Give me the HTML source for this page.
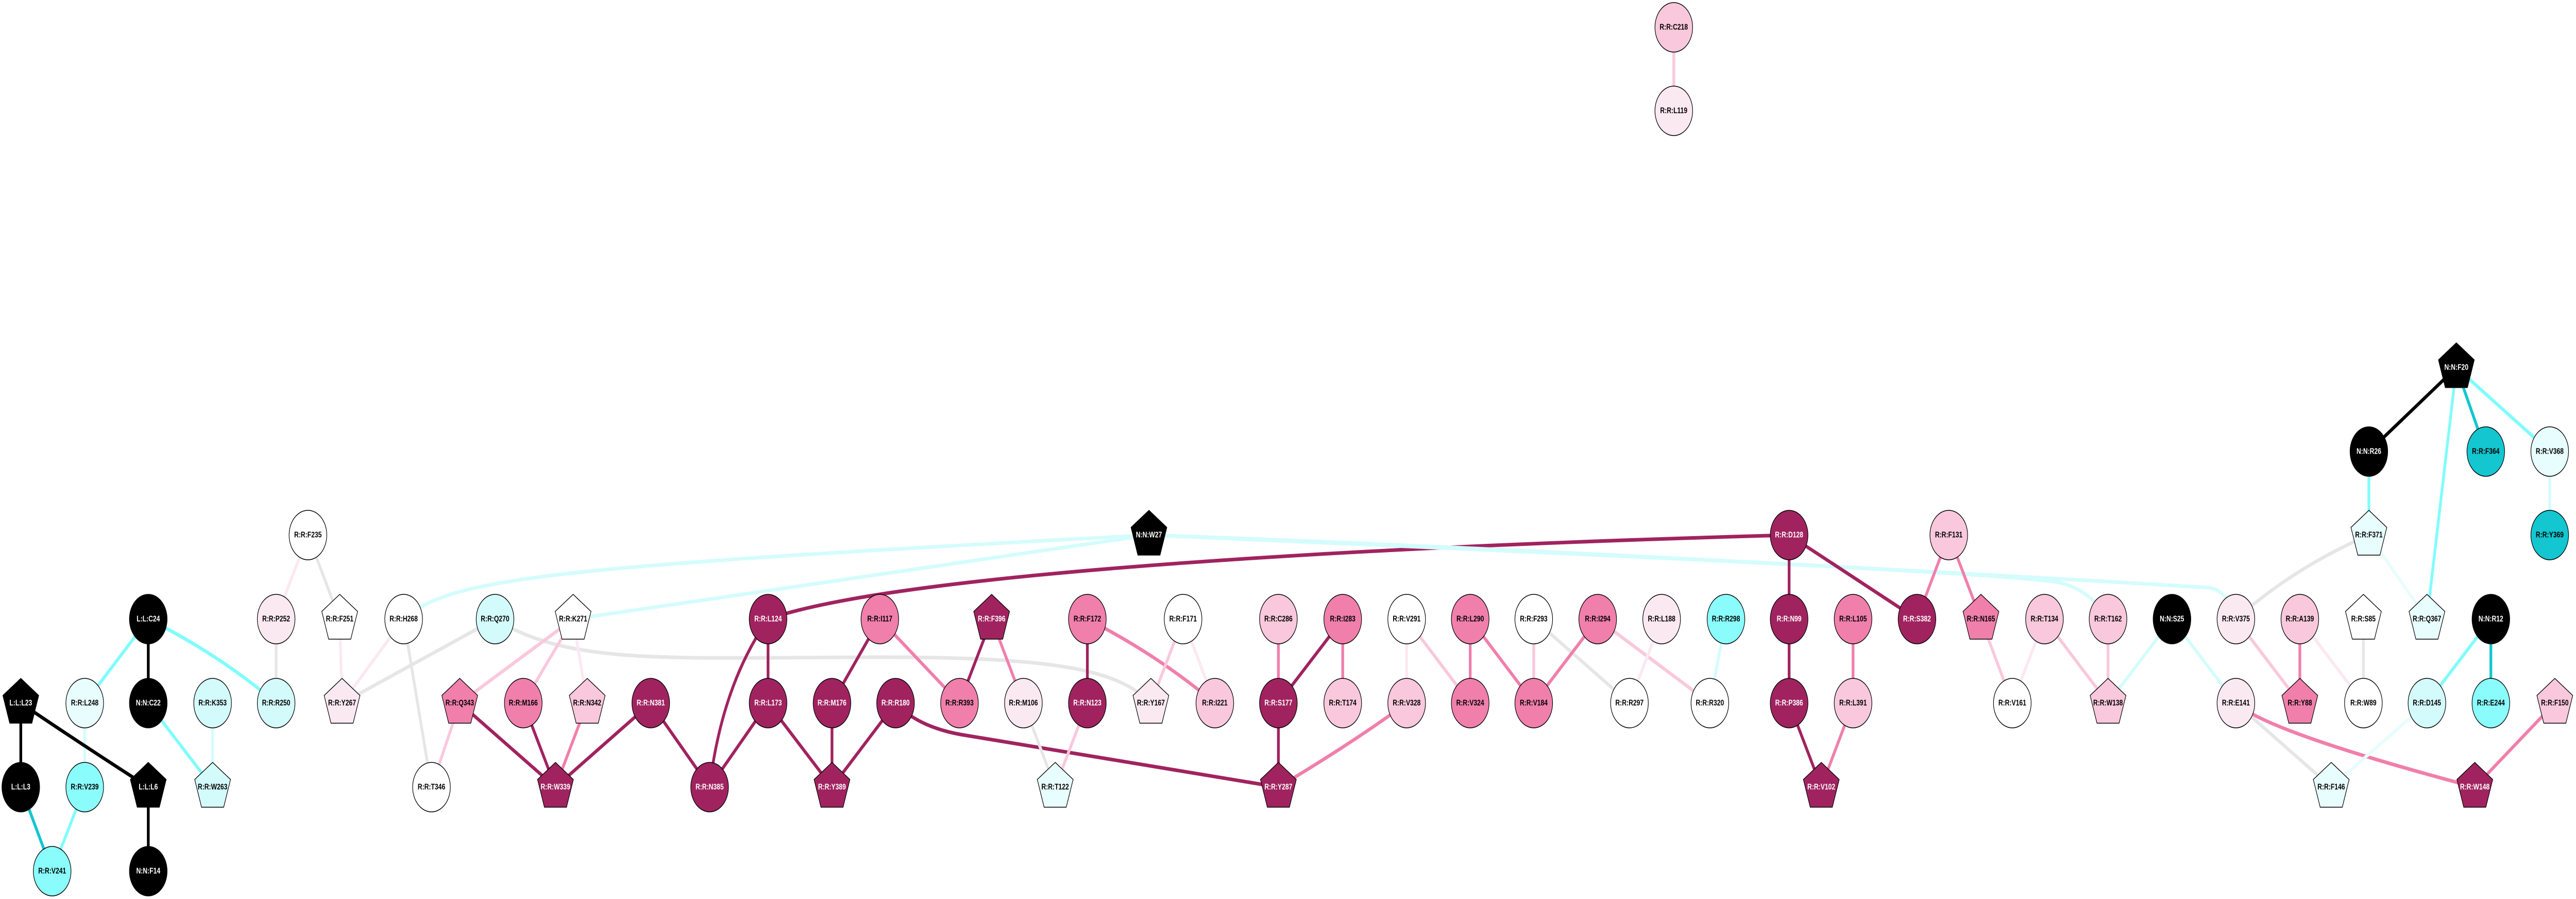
<!DOCTYPE html>
<html><head><meta charset="utf-8">
<meta name="viewport" content="width=6567">
<style>
html,body{margin:0;padding:0;background:#fff;width:100%;height:100%;overflow:hidden;}
svg{display:block;width:100vw;height:100vh;}
.n{stroke:#000;stroke-width:1.5;}
.dk{fill:#a0235f}.pk{fill:#f07fab}.lp{fill:#f9c8dc}.vlp{fill:#fbe9f1}.w{fill:#fff}.blk{fill:#000}
.cy{fill:#8afcfc}.dcy{fill:#13c6cf}.lc{fill:#d4fbfb}.vlc{fill:#e8fdfd}
line,path{stroke-width:7;fill:none;}
.Edk{stroke:#a0235f}.Epk{stroke:#f07fab}.Elp{stroke:#f9c8dc}.Evlp{stroke:#fbe9f1}.Eg{stroke:#e6e6e6}
.Ecy{stroke:#80fcfc}.Elc{stroke:#d4fcfc}.Evlc{stroke:#e8fdfd}.Eblk{stroke:#000}.Edcy{stroke:#13c6cf}
text{font-family:"Liberation Sans",sans-serif;font-weight:bold;font-size:16px;text-anchor:middle;dominant-baseline:central;fill:#000;}
text.wt{fill:#fff;}
</style></head><body>
<svg viewBox="0 0 6567 1744" preserveAspectRatio="none" xmlns="http://www.w3.org/2000/svg">
<defs><polygon id="pg" points="0,-48 45.65,-14.83 28.21,38.83 -28.21,38.83 -45.65,-14.83"/></defs>
<g>
<line class="Elp" x1="4267" y1="53" x2="4267" y2="215"/>
<line class="Evlp" x1="785" y1="1038" x2="704" y2="1201"/>
<line class="Eg" x1="785" y1="1038" x2="866" y2="1201"/>
<line class="Ecy" x1="378" y1="1201" x2="216" y2="1364"/>
<line class="Eblk" x1="378" y1="1201" x2="378" y2="1364"/>
<path class="Ecy" d="M378,1201 Q560,1270 704,1364"/>
<line class="Eg" x1="704" y1="1201" x2="704" y2="1364"/>
<line class="Evlp" x1="866" y1="1201" x2="872" y2="1364"/>
<line class="Evlp" x1="1029" y1="1201" x2="872" y2="1364"/>
<line class="Eg" x1="1029" y1="1201" x2="1100" y2="1527"/>
<line class="Eg" x1="872" y1="1364" x2="1262" y2="1201"/>
<line class="Elc" x1="216" y1="1364" x2="216" y2="1527"/>
<line class="Ecy" x1="378" y1="1364" x2="542" y2="1527"/>
<line class="Elc" x1="542" y1="1364" x2="542" y2="1527"/>
<line class="Eblk" x1="53" y1="1364" x2="53" y2="1527"/>
<path class="Eblk" d="M53,1364 Q200,1440 378,1527"/>
<line class="Edcy" x1="53" y1="1527" x2="133" y2="1690"/>
<line class="Ecy" x1="216" y1="1527" x2="133" y2="1690"/>
<line class="Eblk" x1="378" y1="1527" x2="378" y2="1690"/>
<path class="Elc" d="M1029,1201 C1150,1120 1400,1100 2929,1038"/>
<line class="Elc" x1="1461" y1="1201" x2="2929" y2="1038"/>
<path class="Eg" d="M1262,1201 C1450,1290 1700,1276 2200,1275 C2700,1273 2850,1300 2934,1364"/>
<line class="Elp" x1="1461" y1="1201" x2="1172" y2="1364"/>
<line class="Elp" x1="1461" y1="1201" x2="1334" y2="1364"/>
<line class="Evlp" x1="1461" y1="1201" x2="1497" y2="1364"/>
<line class="Elp" x1="1172" y1="1364" x2="1100" y2="1527"/>
<line class="Edk" x1="1172" y1="1364" x2="1416" y2="1527"/>
<line class="Edk" x1="1334" y1="1364" x2="1416" y2="1527"/>
<line class="Epk" x1="1497" y1="1364" x2="1416" y2="1527"/>
<line class="Edk" x1="1659" y1="1364" x2="1416" y2="1527"/>
<line class="Edk" x1="1659" y1="1364" x2="1809" y2="1527"/>
<path class="Edk" d="M1958,1201 Q1840,1330 1809,1527"/>
<line class="Edk" x1="1958" y1="1201" x2="1958" y2="1364"/>
<line class="Edk" x1="1958" y1="1364" x2="1809" y2="1527"/>
<line class="Edk" x1="1958" y1="1364" x2="2121" y2="1527"/>
<line class="Edk" x1="2121" y1="1364" x2="2121" y2="1527"/>
<line class="Edk" x1="2283" y1="1364" x2="2121" y2="1527"/>
<path class="Edk" d="M1958,1201 C2300,1110 3500,1060 4561,1038"/>
<line class="Edk" x1="2121" y1="1364" x2="2243" y2="1201"/>
<line class="Epk" x1="2243" y1="1201" x2="2446" y2="1364"/>
<line class="Edk" x1="2528" y1="1201" x2="2446" y2="1364"/>
<line class="Epk" x1="2528" y1="1201" x2="2609" y2="1364"/>
<line class="Edk" x1="2772" y1="1201" x2="2772" y2="1364"/>
<path class="Epk" d="M2772,1201 Q2950,1270 3097,1364"/>
<line class="Elp" x1="3016" y1="1201" x2="2934" y2="1364"/>
<line class="Evlp" x1="3016" y1="1201" x2="3097" y2="1364"/>
<line class="Epk" x1="3259" y1="1201" x2="3259" y2="1364"/>
<line class="Edk" x1="3259" y1="1364" x2="3259" y2="1527"/>
<line class="Edk" x1="3259" y1="1364" x2="3423" y2="1201"/>
<path class="Edk" d="M2283,1364 Q2340,1410 2450,1425 L3259,1527"/>
<line class="Eg" x1="2609" y1="1364" x2="2690" y2="1527"/>
<line class="Elp" x1="2772" y1="1364" x2="2690" y2="1527"/>
<line class="Epk" x1="3423" y1="1201" x2="3423" y2="1364"/>
<line class="Evlp" x1="3586" y1="1201" x2="3586" y2="1364"/>
<line class="Elp" x1="3586" y1="1201" x2="3748" y2="1364"/>
<line class="Epk" x1="3748" y1="1201" x2="3748" y2="1364"/>
<line class="Epk" x1="3748" y1="1201" x2="3910" y2="1364"/>
<line class="Elp" x1="3910" y1="1201" x2="3910" y2="1364"/>
<line class="Eg" x1="3910" y1="1201" x2="4154" y2="1364"/>
<line class="Epk" x1="4073" y1="1201" x2="3910" y2="1364"/>
<line class="Elp" x1="4073" y1="1201" x2="4359" y2="1364"/>
<line class="Evlp" x1="4236" y1="1201" x2="4154" y2="1364"/>
<line class="Elc" x1="4400" y1="1201" x2="4359" y2="1364"/>
<path class="Epk" d="M3586,1364 Q3450,1440 3259,1527"/>
<path class="Elc" d="M2929,1038 C3800,1060 5200,1120 5630,1140 Q5680,1145 5700,1200"/>
<path class="Elc" d="M2929,1038 C3900,1070 5100,1110 5250,1130 Q5330,1145 5374,1201"/>
<line class="Edk" x1="4561" y1="1038" x2="4561" y2="1201"/>
<line class="Edk" x1="4561" y1="1038" x2="4887" y2="1201"/>
<line class="Epk" x1="4968" y1="1038" x2="4887" y2="1201"/>
<line class="Epk" x1="4968" y1="1038" x2="5050" y2="1201"/>
<line class="Edk" x1="4561" y1="1201" x2="4561" y2="1364"/>
<line class="Epk" x1="4724" y1="1201" x2="4724" y2="1364"/>
<line class="Edk" x1="4561" y1="1364" x2="4643" y2="1527"/>
<line class="Epk" x1="4724" y1="1364" x2="4643" y2="1527"/>
<line class="Elp" x1="5050" y1="1201" x2="5130" y2="1364"/>
<line class="Evlp" x1="5212" y1="1201" x2="5130" y2="1364"/>
<line class="Elp" x1="5212" y1="1201" x2="5374" y2="1364"/>
<line class="Elp" x1="5374" y1="1201" x2="5374" y2="1364"/>
<line class="Elc" x1="5537" y1="1201" x2="5374" y2="1364"/>
<line class="Eblk" x1="6262" y1="713" x2="6039" y2="876"/>
<line class="Ecy" x1="6262" y1="713" x2="6187" y2="1201"/>
<line class="Edcy" x1="6262" y1="713" x2="6337" y2="876"/>
<line class="Ecy" x1="6262" y1="713" x2="6500" y2="876"/>
<line class="Ecy" x1="6039" y1="876" x2="6039" y2="1038"/>
<line class="Elc" x1="6500" y1="876" x2="6500" y2="1038"/>
<path class="Eg" d="M6039,1038 Q5850,1100 5700,1201"/>
<line class="Evlc" x1="6039" y1="1038" x2="6187" y2="1201"/>
<line class="Elc" x1="5537" y1="1201" x2="5700" y2="1364"/>
<line class="Elp" x1="5700" y1="1201" x2="5863" y2="1364"/>
<line class="Epk" x1="5863" y1="1201" x2="5863" y2="1364"/>
<line class="Evlp" x1="5863" y1="1201" x2="6025" y2="1364"/>
<line class="Eg" x1="6025" y1="1201" x2="6025" y2="1364"/>
<line class="Ecy" x1="6350" y1="1201" x2="6187" y2="1364"/>
<line class="Edcy" x1="6350" y1="1201" x2="6350" y2="1364"/>
<path class="Epk" d="M5700,1364 Q5780,1420 6309,1527"/>
<line class="Eg" x1="5700" y1="1364" x2="5943" y2="1527"/>
<line class="Evlc" x1="6187" y1="1364" x2="5943" y2="1527"/>
<line class="Epk" x1="6513" y1="1364" x2="6309" y2="1527"/>
</g>
<g>
<circle class="n lp" cx="4267" cy="53" r="48"/><text x="4267" y="53">R:R:C218</text>
<circle class="n vlp" cx="4267" cy="215" r="48"/><text x="4267" y="215">R:R:L119</text>
<circle class="n w" cx="785" cy="1038" r="48"/><text x="785" y="1038">R:R:F235</text>
<circle class="n blk" cx="378" cy="1201" r="48"/><text class="wt" x="378" y="1201">L:L:C24</text>
<circle class="n vlp" cx="704" cy="1201" r="48"/><text x="704" y="1201">R:R:P252</text>
<use href="#pg" class="n w" x="866" y="1201"/><text x="866" y="1201">R:R:F251</text>
<circle class="n w" cx="1029" cy="1201" r="48"/><text x="1029" y="1201">R:R:H268</text>
<use href="#pg" class="n blk" x="53" y="1364"/><text class="wt" x="53" y="1364">L:L:L23</text>
<circle class="n vlc" cx="216" cy="1364" r="48"/><text x="216" y="1364">R:R:L248</text>
<circle class="n blk" cx="378" cy="1364" r="48"/><text class="wt" x="378" y="1364">N:N:C22</text>
<circle class="n lc" cx="542" cy="1364" r="48"/><text x="542" y="1364">R:R:K353</text>
<circle class="n lc" cx="704" cy="1364" r="48"/><text x="704" y="1364">R:R:R250</text>
<use href="#pg" class="n vlp" x="872" y="1364"/><text x="872" y="1364">R:R:Y267</text>
<circle class="n blk" cx="53" cy="1527" r="48"/><text class="wt" x="53" y="1527">L:L:L3</text>
<circle class="n cy" cx="216" cy="1527" r="48"/><text x="216" y="1527">R:R:V239</text>
<use href="#pg" class="n blk" x="378" y="1527"/><text class="wt" x="378" y="1527">L:L:L6</text>
<use href="#pg" class="n lc" x="542" y="1527"/><text x="542" y="1527">R:R:W263</text>
<circle class="n w" cx="1100" cy="1527" r="48"/><text x="1100" y="1527">R:R:T346</text>
<circle class="n cy" cx="133" cy="1690" r="48"/><text x="133" y="1690">R:R:V241</text>
<circle class="n blk" cx="378" cy="1690" r="48"/><text class="wt" x="378" y="1690">N:N:F14</text>
<circle class="n lc" cx="1262" cy="1201" r="48"/><text x="1262" y="1201">R:R:Q270</text>
<use href="#pg" class="n w" x="1461" y="1201"/><text x="1461" y="1201">R:R:K271</text>
<circle class="n dk" cx="1958" cy="1201" r="48"/><text class="wt" x="1958" y="1201">R:R:L124</text>
<use href="#pg" class="n pk" x="1172" y="1364"/><text x="1172" y="1364">R:R:Q343</text>
<circle class="n pk" cx="1334" cy="1364" r="48"/><text x="1334" y="1364">R:R:M166</text>
<use href="#pg" class="n lp" x="1497" y="1364"/><text x="1497" y="1364">R:R:N342</text>
<circle class="n dk" cx="1659" cy="1364" r="48"/><text class="wt" x="1659" y="1364">R:R:N381</text>
<circle class="n dk" cx="1958" cy="1364" r="48"/><text class="wt" x="1958" y="1364">R:R:L173</text>
<circle class="n dk" cx="2121" cy="1364" r="48"/><text class="wt" x="2121" y="1364">R:R:M176</text>
<use href="#pg" class="n dk" x="1416" y="1527"/><text class="wt" x="1416" y="1527">R:R:W339</text>
<circle class="n dk" cx="1809" cy="1527" r="48"/><text class="wt" x="1809" y="1527">R:R:N385</text>
<use href="#pg" class="n dk" x="2121" y="1527"/><text class="wt" x="2121" y="1527">R:R:Y389</text>
<use href="#pg" class="n blk" x="2929" y="1038"/><text class="wt" x="2929" y="1038">N:N:W27</text>
<circle class="n pk" cx="2243" cy="1201" r="48"/><text x="2243" y="1201">R:R:I117</text>
<use href="#pg" class="n dk" x="2528" y="1201"/><text class="wt" x="2528" y="1201">R:R:F396</text>
<circle class="n pk" cx="2772" cy="1201" r="48"/><text x="2772" y="1201">R:R:F172</text>
<circle class="n w" cx="3016" cy="1201" r="48"/><text x="3016" y="1201">R:R:F171</text>
<circle class="n lp" cx="3259" cy="1201" r="48"/><text x="3259" y="1201">R:R:C286</text>
<circle class="n dk" cx="2283" cy="1364" r="48"/><text class="wt" x="2283" y="1364">R:R:R180</text>
<circle class="n pk" cx="2446" cy="1364" r="48"/><text x="2446" y="1364">R:R:R393</text>
<circle class="n vlp" cx="2609" cy="1364" r="48"/><text x="2609" y="1364">R:R:M106</text>
<circle class="n dk" cx="2772" cy="1364" r="48"/><text class="wt" x="2772" y="1364">R:R:N123</text>
<use href="#pg" class="n vlp" x="2934" y="1364"/><text x="2934" y="1364">R:R:Y167</text>
<circle class="n lp" cx="3097" cy="1364" r="48"/><text x="3097" y="1364">R:R:I221</text>
<circle class="n dk" cx="3259" cy="1364" r="48"/><text class="wt" x="3259" y="1364">R:R:S177</text>
<use href="#pg" class="n vlc" x="2690" y="1527"/><text x="2690" y="1527">R:R:T122</text>
<use href="#pg" class="n dk" x="3259" y="1527"/><text class="wt" x="3259" y="1527">R:R:Y287</text>
<circle class="n pk" cx="3423" cy="1201" r="48"/><text x="3423" y="1201">R:R:I283</text>
<circle class="n w" cx="3586" cy="1201" r="48"/><text x="3586" y="1201">R:R:V291</text>
<circle class="n pk" cx="3748" cy="1201" r="48"/><text x="3748" y="1201">R:R:L290</text>
<circle class="n w" cx="3910" cy="1201" r="48"/><text x="3910" y="1201">R:R:F293</text>
<circle class="n pk" cx="4073" cy="1201" r="48"/><text x="4073" y="1201">R:R:I294</text>
<circle class="n vlp" cx="4236" cy="1201" r="48"/><text x="4236" y="1201">R:R:L188</text>
<circle class="n cy" cx="4400" cy="1201" r="48"/><text x="4400" y="1201">R:R:R298</text>
<circle class="n lp" cx="3423" cy="1364" r="48"/><text x="3423" y="1364">R:R:T174</text>
<circle class="n lp" cx="3586" cy="1364" r="48"/><text x="3586" y="1364">R:R:V328</text>
<circle class="n pk" cx="3748" cy="1364" r="48"/><text x="3748" y="1364">R:R:V324</text>
<circle class="n pk" cx="3910" cy="1364" r="48"/><text x="3910" y="1364">R:R:V184</text>
<circle class="n w" cx="4154" cy="1364" r="48"/><text x="4154" y="1364">R:R:R297</text>
<circle class="n w" cx="4359" cy="1364" r="48"/><text x="4359" y="1364">R:R:R320</text>
<circle class="n dk" cx="4561" cy="1038" r="48"/><text class="wt" x="4561" y="1038">R:R:D128</text>
<circle class="n lp" cx="4968" cy="1038" r="48"/><text x="4968" y="1038">R:R:F131</text>
<circle class="n dk" cx="4561" cy="1201" r="48"/><text class="wt" x="4561" y="1201">R:R:N99</text>
<circle class="n pk" cx="4724" cy="1201" r="48"/><text x="4724" y="1201">R:R:L105</text>
<circle class="n dk" cx="4887" cy="1201" r="48"/><text class="wt" x="4887" y="1201">R:R:S382</text>
<use href="#pg" class="n pk" x="5050" y="1201"/><text x="5050" y="1201">R:R:N165</text>
<circle class="n lp" cx="5212" cy="1201" r="48"/><text x="5212" y="1201">R:R:T134</text>
<circle class="n lp" cx="5374" cy="1201" r="48"/><text x="5374" y="1201">R:R:T162</text>
<circle class="n dk" cx="4561" cy="1364" r="48"/><text class="wt" x="4561" y="1364">R:R:P386</text>
<circle class="n lp" cx="4724" cy="1364" r="48"/><text x="4724" y="1364">R:R:L391</text>
<circle class="n w" cx="5130" cy="1364" r="48"/><text x="5130" y="1364">R:R:V161</text>
<use href="#pg" class="n lp" x="5374" y="1364"/><text x="5374" y="1364">R:R:W138</text>
<use href="#pg" class="n dk" x="4643" y="1527"/><text class="wt" x="4643" y="1527">R:R:V102</text>
<use href="#pg" class="n blk" x="6262" y="713"/><text class="wt" x="6262" y="713">N:N:F20</text>
<circle class="n blk" cx="6039" cy="876" r="48"/><text class="wt" x="6039" y="876">N:N:R26</text>
<circle class="n dcy" cx="6337" cy="876" r="48"/><text x="6337" y="876">R:R:F364</text>
<circle class="n vlc" cx="6500" cy="876" r="48"/><text x="6500" y="876">R:R:V368</text>
<use href="#pg" class="n vlc" x="6039" y="1038"/><text x="6039" y="1038">R:R:F371</text>
<circle class="n dcy" cx="6500" cy="1038" r="48"/><text x="6500" y="1038">R:R:Y369</text>
<circle class="n blk" cx="5537" cy="1201" r="48"/><text class="wt" x="5537" y="1201">N:N:S25</text>
<circle class="n vlp" cx="5700" cy="1201" r="48"/><text x="5700" y="1201">R:R:V375</text>
<circle class="n lp" cx="5863" cy="1201" r="48"/><text x="5863" y="1201">R:R:A139</text>
<use href="#pg" class="n w" x="6025" y="1201"/><text x="6025" y="1201">R:R:S85</text>
<use href="#pg" class="n vlc" x="6187" y="1201"/><text x="6187" y="1201">R:R:Q367</text>
<circle class="n blk" cx="6350" cy="1201" r="48"/><text class="wt" x="6350" y="1201">N:N:R12</text>
<circle class="n vlp" cx="5700" cy="1364" r="48"/><text x="5700" y="1364">R:R:E141</text>
<use href="#pg" class="n pk" x="5863" y="1364"/><text x="5863" y="1364">R:R:Y88</text>
<circle class="n w" cx="6025" cy="1364" r="48"/><text x="6025" y="1364">R:R:W89</text>
<circle class="n lc" cx="6187" cy="1364" r="48"/><text x="6187" y="1364">R:R:D145</text>
<circle class="n cy" cx="6350" cy="1364" r="48"/><text x="6350" y="1364">R:R:E244</text>
<use href="#pg" class="n lp" x="6513" y="1364"/><text x="6513" y="1364">R:R:F150</text>
<use href="#pg" class="n vlc" x="5943" y="1527"/><text x="5943" y="1527">R:R:F146</text>
<use href="#pg" class="n dk" x="6309" y="1527"/><text class="wt" x="6309" y="1527">R:R:W148</text>
</g>
</svg>
</body></html>
